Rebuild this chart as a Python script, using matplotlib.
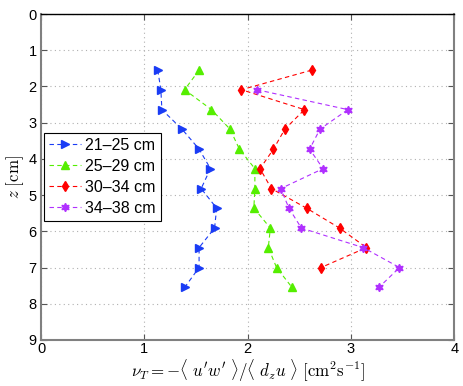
import matplotlib
matplotlib.use('Agg')
import matplotlib.pyplot as plt

# depth levels (cm)
z_blue = [1.55, 2.09, 2.64, 3.18, 3.73, 4.27, 4.82, 5.36, 5.91, 6.45, 7.0, 7.55]
z_green = [1.55, 2.09, 2.64, 3.18, 3.73, 4.27, 4.82, 5.36, 5.91, 6.45, 7.0, 7.55]
z_red = [1.55, 2.09, 2.64, 3.18, 3.73, 4.27, 4.82, 5.36, 5.91, 6.45, 7.0]
z_purple = [2.09, 2.64, 3.18, 3.73, 4.27, 4.82, 5.36, 5.91, 6.45, 7.0, 7.55]

# eddy viscosity values
nu_blue = [1.13, 1.16, 1.17, 1.365, 1.53, 1.64, 1.55, 1.70, 1.68, 1.53, 1.53, 1.39]
nu_green = [1.53, 1.39, 1.65, 1.83, 1.92, 2.07, 2.07, 2.06, 2.22, 2.20, 2.28, 2.43]
nu_red = [2.62, 1.94, 2.55, 2.36, 2.25, 2.12, 2.23, 2.57, 2.89, 3.15, 2.71]
nu_purple = [2.09, 2.97, 2.70, 2.60, 2.73, 2.32, 2.40, 2.52, 3.12, 3.47, 3.27]

labels = ['21\u201325 cm', '25\u201329 cm', '30\u201334 cm', '34\u201338 cm']
xticks = [0, 1, 2, 3, 4]
yticks = [0, 1, 2, 3, 4, 5, 6, 7, 8, 9]

plt.rcParams['font.family'] = ['Liberation Sans', 'DejaVu Sans']
plt.rcParams['mathtext.fontset'] = 'cm'

fig = plt.figure(figsize=(4.63, 3.86), dpi=100)
ax = fig.add_axes([0.0886, 0.1192, 0.8925, 0.8445])

series = [
    (nu_blue, z_blue, '#1a3cf5', '>', 5.5),
    (nu_green, z_green, '#55ee00', '^', 5.5),
    (nu_red, z_red, '#ff0000', 'd', 5.5),
    (nu_purple, z_purple, '#b030ff', (6, 1, 0), 6),
]
for (x, z, c, m, ms), lab in zip(series, labels):
    ax.plot(x, z, color=c, linestyle=(0, (4, 3)), linewidth=0.8,
            marker=m, markersize=ms, markeredgecolor=c, markerfacecolor=c,
            label=lab)

ax.set_xlim(0, 4)
ax.set_ylim(9, 0)
ax.set_xticks(xticks)
ax.set_yticks(yticks)
ax.tick_params(direction='in', top=True, right=True, labelsize=10.5,
               length=4, width=0.8, color='#555555', pad=1.5)
ax.tick_params(axis='y', pad=3)
ax.grid(True, linestyle=(0, (1, 3)), color='#b0b0b0', linewidth=0.8)

for side in ['left', 'right', 'bottom']:
    ax.spines[side].set_color('#808080')
    ax.spines[side].set_linewidth(1.5)
ax.spines['top'].set_color('black')
ax.spines['top'].set_linewidth(1.0)

ax.set_xlabel(r'$\nu_T = -\langle\ u^\prime w^\prime\ \rangle / \langle\ d_z u\ \rangle\ [\mathrm{cm}^2\mathrm{s}^{-1}]$',
              fontsize=12.2, labelpad=1)
ax.set_ylabel(r'$z\ [\mathrm{cm}]$', fontsize=12.2, labelpad=2)

leg = ax.legend(loc='upper left', bbox_to_anchor=(0.007, 0.635), borderaxespad=0,
                fontsize=11.5, fancybox=False, edgecolor='black', framealpha=1,
                handlelength=2.0, handletextpad=0.3, labelspacing=0.38,
                borderpad=0.3)
leg.get_frame().set_linewidth(0.8)

fig.savefig('out.png', dpi=100)
